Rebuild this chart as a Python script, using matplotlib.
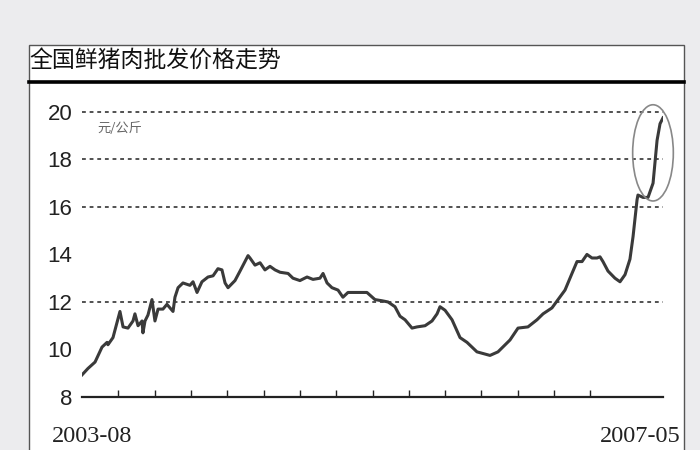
import numpy as np
import matplotlib.pyplot as plt
from matplotlib.patches import Rectangle, Ellipse
from matplotlib.lines import Line2D

# Data: months since 2003-08 and wholesale pork price (yuan/kg)
months = [0, 0.46, 1.01, 1.55, 1.94, 2.01, 2.40, 2.94, 3.18, 3.56, 3.95, 4.10, 4.34,
          4.65, 4.72, 4.88, 5.11, 5.42, 5.65, 5.89, 6.27, 6.58, 7.05, 7.20, 7.44,
          7.82, 8.36, 8.60, 8.91, 9.29, 9.76, 10.15, 10.53, 10.84, 11.08, 11.31,
          11.85, 12.24, 12.86, 13.01, 13.40, 13.79, 14.17, 14.56, 14.95, 15.34,
          15.96, 16.34, 16.88, 17.43, 17.89, 18.43, 18.67, 18.98, 19.36, 19.83,
          20.21, 20.60, 21.30, 22.07, 22.69, 23.24, 23.70, 24.24, 24.63, 25.02,
          25.56, 25.95, 26.57, 27.11, 27.50, 27.73, 28.12, 28.66, 29.28, 29.82,
          30.59, 31.60, 32.22, 33.15, 33.77, 34.54, 35.24, 35.71, 36.40, 36.87,
          37.41, 37.95, 38.34, 38.73, 39.11, 39.50, 39.89, 40.12, 40.35, 40.74,
          41.28, 41.67, 42.06, 42.44, 42.68, 42.99, 43.06, 43.45, 43.84, 44.23,
          44.54, 44.77, 45.00]
price = [8.93, 9.2, 9.47, 10.1, 10.3, 10.2, 10.5, 11.6, 10.95, 10.9, 11.2, 11.5, 11.0,
         11.2, 10.7, 11.2, 11.45, 12.1, 11.2, 11.7, 11.7, 11.9, 11.6, 12.2, 12.6,
         12.8, 12.7, 12.85, 12.4, 12.85, 13.05, 13.1, 13.4, 13.35, 12.8, 12.6,
         12.9, 13.3, 13.95, 13.85, 13.55, 13.65, 13.35, 13.5, 13.35, 13.25,
         13.2, 13.0, 12.9, 13.05, 12.95, 13.0, 13.2, 12.8, 12.6, 12.5,
         12.2, 12.4, 12.4, 12.4, 12.1, 12.05, 12.0, 11.8, 11.4, 11.25,
         10.9, 10.95, 11.0, 11.2, 11.5, 11.8, 11.65, 11.25, 10.5, 10.3,
         9.9, 9.75, 9.9, 10.4, 10.9, 10.95, 11.25, 11.5, 11.75, 12.1,
         12.5, 13.2, 13.7, 13.7, 14.0, 13.85, 13.85, 13.9, 13.7, 13.3,
         13.0, 12.85, 13.15, 13.8, 14.75, 16.3, 16.5, 16.4, 16.4, 17.0,
         18.8, 19.5, 19.75]
y_ticks = [8, 10, 12, 14, 16, 18, 20]
grid_levels = [12, 16, 18, 20]
start_label = "2003-08"
end_label = "2007-05"
title = "全国鲜猪肉批发价格走势"
unit = "元/公斤"
n_highlight = 6   # last points circled

fig = plt.figure(figsize=(7, 4.5), dpi=100)
fig.patch.set_facecolor("#ececee")

# white panel with title and thick rule
fig.patches.append(Rectangle((29 / 700, -0.05), (684 - 29) / 700, 0.95,
                             transform=fig.transFigure, facecolor="white",
                             edgecolor="#555555", lw=1.0, zorder=-5))
fig.lines.append(Line2D([29 / 700, 684 / 700], [0.818, 0.818], transform=fig.transFigure,
                        color="black", lw=2.6, zorder=-4))
fig.text(0.042, 0.864, title, fontsize=16.5, va="center", ha="left",
         family=["Noto Sans CJK SC", "DejaVu Sans"], color="#111111")

ax = fig.add_axes([82 / 700, 1 - 397 / 450, (663 - 82) / 700, (397 - 100) / 450])
ax.set_zorder(2)
ax.set_facecolor("none")
ax.plot(months, price, color="#3a3a3a", lw=2.2, solid_joinstyle="round", zorder=3)

for g in grid_levels:
    ax.axhline(g, color="#222222", lw=1.1, ls=(0, (2.5, 2.5)), zorder=1)

ax.set_xlim(0, 45)
ax.set_ylim(8, 20.5)
ax.set_yticks(y_ticks)
ax.set_yticklabels([str(v) for v in y_ticks], family="Liberation Sans",
                   fontsize=16, color="#222222")
ax.tick_params(axis="y", length=0, pad=7)

xt = np.linspace(0, 45, 17)[1:15]
ax.set_xticks(xt)
ax.set_xticklabels([])
ax.tick_params(axis="x", direction="in", length=5, width=1.0, color="#222222")

for s in ["top", "right", "left"]:
    ax.spines[s].set_visible(False)
ax.spines["bottom"].set_linewidth(1.6)
ax.spines["bottom"].set_color("#222222")

ax.text(0.027, 0.905, unit, transform=ax.transAxes, fontsize=9.5, color="#666666",
        family=["Noto Sans CJK SC", "DejaVu Sans"], va="center")

# x end labels
fig.text(52 / 700, 1 - 437 / 450, start_label, fontsize=17.5, family="Liberation Serif",
         va="center", ha="left", color="#222222")
fig.text(681 / 700, 1 - 437 / 450, end_label, fontsize=17.5, family="Liberation Serif",
         va="center", ha="right", color="#222222")

# ellipse around the latest surge
hx = months[-n_highlight:]
hy = price[-n_highlight:]
cx = (min(hx) + max(hx)) / 2
cy = (min(hy) + max(hy)) / 2 + 0.2
ax.add_patch(Ellipse((cx, cy), (max(hx) - min(hx)) + 1.6, (max(hy) - min(hy)) + 0.7,
                     fill=False, edgecolor="#888888", lw=1.2, clip_on=False, zorder=4))

fig.savefig("out.png", dpi=100, facecolor=fig.get_facecolor())
